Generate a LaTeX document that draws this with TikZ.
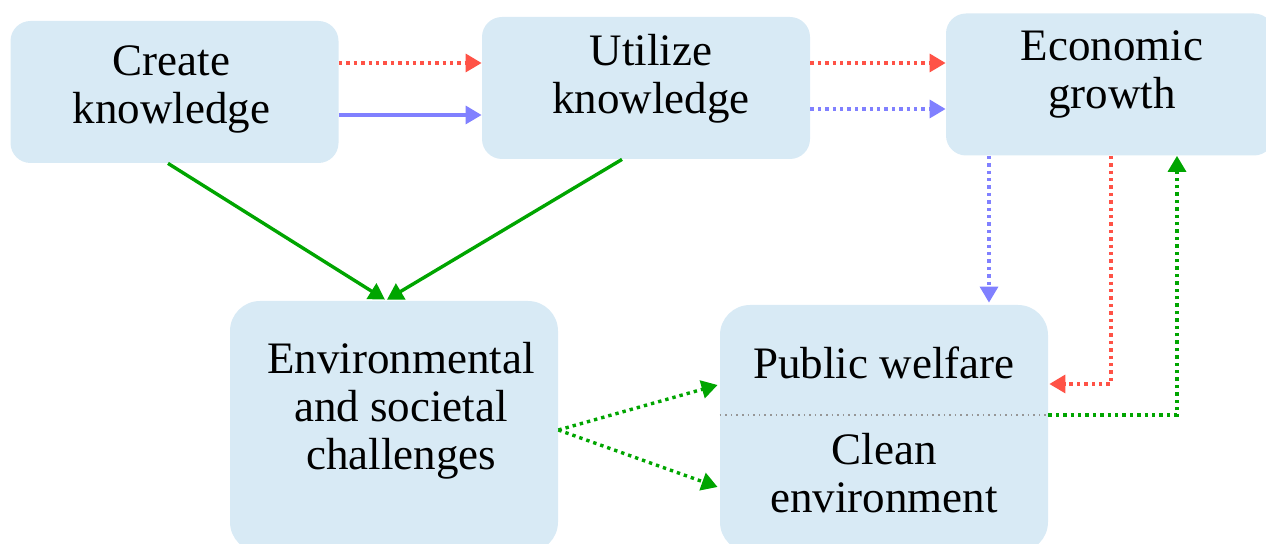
\documentclass[tikz,border=0pt]{standalone}
\usepackage{fontspec}
\setmainfont{Liberation Serif}
\usetikzlibrary{arrows.meta,calc,positioning}
\definecolor{boxfill}{RGB}{216,234,245}
\definecolor{flowred}{RGB}{255,82,70}
\definecolor{flowblue}{RGB}{128,128,255}
\definecolor{flowgreen}{RGB}{0,165,0}
\definecolor{splitgray}{RGB}{150,150,150}

\begin{document}
\begin{tikzpicture}[x=0.5pt, y=-0.5pt,
    box/.style={fill=boxfill, rounded corners=10pt, minimum width=164pt, minimum height=71pt, inner sep=0pt},
    tall box/.style={box, rounded corners=15pt},
    box text/.style={align=center, font=\fontsize{22.5}{24}\selectfont},
    flow/.style={line width=1.7pt, -{Triangle[length=8pt,width=9pt]}},
    red flow/.style={flow, flowred, dotted},
    blue flow/.style={flow, flowblue, dotted},
    blue line/.style={flow, flowblue},
    green flow/.style={flow, flowgreen, dotted},
    green line/.style={flow, flowgreen}
]

% Frame
\useasboundingbox (0,0) rectangle (1266,544);
\clip (0,0) rectangle (1266,544);

% Boxes
\node[box] (create) at (174.5,92) {};
\node[box] (utilize) at (646,88) {};
\node[box] (growth) at (1110,84.5) {};
\node[tall box, minimum height=125.5pt] (challenges) at (394,426.5) {};
\node[tall box, minimum height=123.5pt] (welfare) at (884,428.5) {};

% Texts
\node[box text] (create text) at (171.5,89) {Create\\knowledge};
\node[box text] (utilize text) at (651,79) {Utilize\\knowledge};
\node[box text] (growth text) at (1112,74) {Economic\\growth};
\node[box text] (challenges text) at (401,411) {Environmental\\and societal\\challenges};
\node[box text] (welfare text) at (884,363) {Public welfare};
\node[box text] (environment text) at (884,473) {Clean\\environment};

% Divider
\draw[splitgray, dotted, line width=0.8pt] ($(welfare.west)+(0,-13.5)$) -- ($(welfare.east)+(0,-13.5)$);

% Top row
\draw[red flow] ($(create.east)+(0,-29)$) -- ($(utilize.west)+(0,-25)$);
\draw[blue line] ($(create.east)+(0,23)$) -- ($(utilize.west)+(0,27)$);
\draw[red flow] ($(utilize.east)+(0,-25)$) -- ($(growth.west)+(0,-21.5)$);
\draw[blue flow] ($(utilize.east)+(0,21)$) -- ($(growth.west)+(0,24.5)$);

% Growth and welfare
\draw[blue flow] ($(growth.south)+(-121,0)$) -- ($(welfare.north)+(105,-2)$);
\draw[red flow] ($(growth.south)+(1,0)$) |- ($(welfare.east)+(1,-44.5)$);
\draw[green flow] ($(welfare.east)+(0,-13.5)$) -| ($(growth.south)+(67,0)$);

% Knowledge to challenges
\draw[green line] ($(create.south)+(-6.5,0)$) -- ($(challenges.north)+(-9,-1)$);
\draw[green line] ($(utilize.south)+(-24,0)$) -- ($(challenges.north)+(-7,-1)$);

% Challenges to welfare
\draw[green flow] ($(challenges.east)+(0,3.5)$) -- ($(welfare.west)+(-2,-43.5)$);
\draw[green flow] ($(challenges.east)+(0,3.5)$) -- ($(welfare.west)+(-2,58.5)$);

\end{tikzpicture}
\end{document}
